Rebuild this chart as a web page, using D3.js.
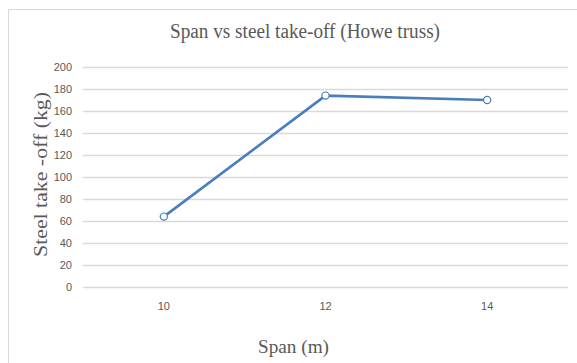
<!DOCTYPE html>
<html>
<head>
<meta charset="utf-8">
<script src="https://cdn.jsdelivr.net/npm/d3@7"></script>
<style>
  html, body { margin: 0; padding: 0; background: #fff; }
  svg { display: block; }
</style>
</head>
<body>
<svg id="chart" width="577" height="363"></svg>
<script>
// Span (m) categories and steel take-off (kg) for the Howe truss
const spans = ["10", "12", "14"];
const steelTakeOff = [64, 174, 170];
const yTicks = [0, 20, 40, 60, 80, 100, 120, 140, 160, 180, 200];

const W = 577, H = 363;
const plot = { left: 83, right: 568, top: 67, bottom: 287 };
const textColor = "#595959";
const gridColor = "#d9d9d9";
const lineColor = "#4a7ebb";

const svg = d3.select("#chart");

// outer chart frame
svg.append("rect")
  .attr("x", 8.5).attr("y", 9.5)
  .attr("width", W + 20).attr("height", H + 20)
  .attr("fill", "#fff")
  .attr("stroke", gridColor).attr("stroke-width", 1);

const x = d3.scaleBand().domain(spans).range([plot.left, plot.right]);
const y = d3.scaleLinear().domain([0, 200]).range([plot.bottom, plot.top]);

// horizontal gridlines + y tick labels
const yAxis = d3.axisLeft(y).tickValues(yTicks).tickSize(-(plot.right - plot.left)).tickPadding(11);
const gy = svg.append("g").attr("transform", `translate(${plot.left},0)`).call(yAxis);
gy.select(".domain").remove();
gy.selectAll(".tick line").attr("stroke", gridColor).attr("stroke-width", 1.3);
gy.selectAll(".tick text")
  .attr("fill", textColor)
  .style("font-family", "'Liberation Sans', Arial, sans-serif")
  .style("font-size", "11px");

// x tick labels
const xAxis = d3.axisBottom(x).tickSize(0).tickPadding(15);
const gx = svg.append("g").attr("transform", `translate(0,${plot.bottom})`).call(xAxis);
gx.select(".domain").remove();
gx.selectAll(".tick text")
  .attr("fill", textColor)
  .style("font-family", "'Liberation Sans', Arial, sans-serif")
  .style("font-size", "11px");

// data line
const data = spans.map((s, i) => ({ s, v: steelTakeOff[i] }));
const cx = d => x(d.s) + x.bandwidth() / 2;
svg.append("path")
  .datum(data)
  .attr("fill", "none")
  .attr("stroke", lineColor)
  .attr("stroke-width", 2.6)
  .attr("stroke-linejoin", "round")
  .attr("d", d3.line().x(cx).y(d => y(d.v)));

svg.selectAll("circle.pt")
  .data(data)
  .join("circle")
  .attr("class", "pt")
  .attr("cx", cx)
  .attr("cy", d => y(d.v))
  .attr("r", 3.6)
  .attr("fill", "#fff")
  .attr("stroke", lineColor)
  .attr("stroke-width", 1.2);

// title and axis titles (serif, slightly condensed)
const serif = "'Liberation Serif', 'Times New Roman', serif";
svg.append("text")
  .attr("x", 305).attr("y", 38)
  .attr("text-anchor", "middle")
  .attr("fill", textColor)
  .attr("textLength", 270)
  .attr("lengthAdjust", "spacingAndGlyphs")
  .style("font-family", serif)
  .style("font-size", "20px")
  .text("Span vs steel take-off (Howe truss)");

svg.append("text")
  .attr("transform", "translate(47,174.5) rotate(-90)")
  .attr("text-anchor", "middle")
  .attr("fill", textColor)
  .attr("textLength", 165)
  .attr("lengthAdjust", "spacingAndGlyphs")
  .style("font-family", serif)
  .style("font-size", "19.5px")
  .text("Steel take -off (kg)");

svg.append("text")
  .attr("x", 293.5).attr("y", 353)
  .attr("text-anchor", "middle")
  .attr("fill", textColor)
  .attr("textLength", 71)
  .attr("lengthAdjust", "spacingAndGlyphs")
  .style("font-family", serif)
  .style("font-size", "19.5px")
  .text("Span (m)");
</script>
</body>
</html>
